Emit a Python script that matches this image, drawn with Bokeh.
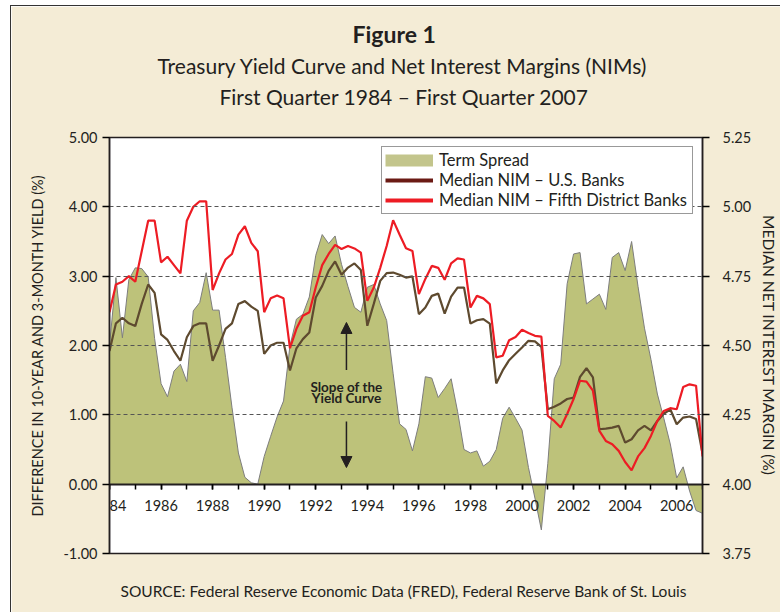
from bokeh.plotting import figure
from bokeh.models import (Range1d, LinearAxis, FixedTicker, SingleIntervalTicker,
                          NumeralTickFormatter, Legend, LegendItem, Label, Arrow,
                          NormalHead, ColumnDataSource, Title)
from bokeh.embed import file_html
from bokeh.resources import INLINE

# ---------------- data (quarterly, 1984Q1 .. 2007Q1) ----------------
start_year = 1984
term_spread = [2.00, 2.98, 2.11, 2.95, 3.12, 3.11, 2.99, 2.10, 1.45, 1.26, 1.63, 1.73,
               1.48, 2.50, 2.62, 3.05, 2.51, 2.51, 1.83, 1.11, 0.45, 0.10, 0.02, 0.00,
               0.40, 0.69, 0.97, 1.20, 2.00, 2.38, 2.45, 2.70, 3.30, 3.60, 3.47, 3.58,
               3.17, 2.85, 2.55, 2.48, 2.84, 2.88, 2.60, 2.36, 1.60, 0.87, 0.79, 0.48,
               0.87, 1.55, 1.53, 1.25, 1.38, 1.52, 1.05, 0.50, 0.45, 0.48, 0.26, 0.33,
               0.50, 0.95, 1.11, 0.95, 0.78, 0.24, -0.20, -0.66, 0.30, 1.52, 1.73, 2.89,
               3.32, 3.34, 2.60, 2.67, 2.74, 2.52, 3.27, 3.34, 3.08, 3.50, 2.85, 2.25,
               1.80, 1.30, 0.95, 0.58, 0.09, 0.25, -0.10, -0.38, -0.42]
nim_us = [4.48, 4.58, 4.60, 4.58, 4.57, 4.65, 4.72, 4.69, 4.54, 4.52, 4.48, 4.445,
          4.53, 4.57, 4.58, 4.58, 4.445, 4.50, 4.56, 4.58, 4.65, 4.66, 4.64, 4.625,
          4.47, 4.50, 4.51, 4.51, 4.41, 4.49, 4.523, 4.547, 4.673, 4.715, 4.769, 4.803,
          4.755, 4.781, 4.796, 4.772, 4.571, 4.65, 4.733, 4.761, 4.763, 4.755, 4.745, 4.749,
          4.613, 4.637, 4.679, 4.687, 4.615, 4.676, 4.709, 4.709, 4.579, 4.591, 4.595, 4.579,
          4.363, 4.41, 4.447, 4.47, 4.493, 4.517, 4.515, 4.495, 4.27, 4.279, 4.291, 4.307,
          4.312, 4.387, 4.418, 4.385, 4.198, 4.20, 4.204, 4.21, 4.15, 4.162, 4.194, 4.21,
          4.194, 4.228, 4.254, 4.27, 4.216, 4.24, 4.244, 4.235, 4.11]
nim_fifth = [4.62, 4.72, 4.73, 4.75, 4.73, 4.84, 4.95, 4.95, 4.80, 4.82, 4.79, 4.76,
             4.95, 5.00, 5.02, 5.02, 4.70, 4.76, 4.81, 4.83, 4.90, 4.93, 4.87, 4.84,
             4.62, 4.67, 4.68, 4.67, 4.49, 4.56, 4.607, 4.62, 4.71, 4.79, 4.83, 4.863,
             4.848, 4.859, 4.85, 4.835, 4.661, 4.709, 4.78, 4.859, 4.952, 4.90, 4.851, 4.841,
             4.685, 4.74, 4.787, 4.78, 4.737, 4.796, 4.814, 4.81, 4.637, 4.679, 4.67, 4.649,
             4.457, 4.463, 4.519, 4.531, 4.557, 4.545, 4.535, 4.532, 4.246, 4.228, 4.204, 4.253,
             4.307, 4.373, 4.37, 4.337, 4.192, 4.156, 4.144, 4.12, 4.08, 4.05, 4.10, 4.13,
             4.174, 4.228, 4.264, 4.274, 4.27, 4.35, 4.36, 4.355, 4.10]
left_ticks = [-1, 0, 1, 2, 3, 4, 5]
right_ticks = [3.75, 4.00, 4.25, 4.50, 4.75, 5.00, 5.25]
grid_levels = [1, 2, 3, 4]

quarters = [start_year + i / 4 for i in range(len(term_spread))]
src = ColumnDataSource(dict(x=quarters, spread=term_spread, us=nim_us, fifth=nim_fifth,
                            zero=[0] * len(term_spread)))

# ---------------- styling ----------------
FONT = "Lato"
DARK = "#231f20"
CREAM = "#f4ecd6"
GREEN = "#bdc27a"
RED = "#ed1c24"
BROWN = "#5e4a2f"

W, H = 770, 607
p = figure(width=W, height=H, output_backend="svg", toolbar_location=None,
           x_range=Range1d(1984, 2007), y_range=Range1d(-1, 5),
           min_border_left=98, min_border_right=75, min_border_top=131,
           min_border_bottom=60)
p.styles = {"margin-left": "10px", "margin-top": "4.5px",
            "border-left": "1.5px solid #333333", "border-top": "1.5px solid #333333"}
p.title.text = ""
p.background_fill_color = "white"
p.border_fill_color = CREAM
p.outline_line_color = DARK
p.outline_line_width = 1.5
p.extra_y_ranges = {"r": Range1d(3.75, 5.25)}

# term spread area
p.varea(x="x", y1="zero", y2="spread", source=src, fill_color=GREEN, level="underlay")
p.line(x="x", y="spread", source=src, line_color="#7d7d7d", line_width=1, level="underlay")
# NIM lines
p.line(x="x", y="us", source=src, line_color=BROWN, line_width=2.2, y_range_name="r")
p.line(x="x", y="fifth", source=src, line_color=RED, line_width=2.2, y_range_name="r")

# grid
p.xgrid.visible = False
p.ygrid.ticker = FixedTicker(ticks=grid_levels)
p.ygrid.grid_line_color = "#555555"
p.ygrid.grid_line_dash = "4 3"
p.ygrid.grid_line_width = 1.2
p.ygrid.level = "glyph"

# left axis
ya = p.yaxis[0]
ya.ticker = FixedTicker(ticks=left_ticks)
ya.formatter = NumeralTickFormatter(format="0.00")
ya.major_tick_out = 7
ya.major_tick_in = 0
ya.major_tick_line_width = 1.5
ya.minor_tick_line_color = None
ya.axis_line_width = 1.5
ya.axis_line_color = DARK
ya.major_label_standoff = 5
ya.major_label_text_font = FONT
ya.major_label_text_font_size = "14.5px"
ya.major_label_text_color = DARK
ya.axis_label = "DIFFERENCE IN 10-YEAR AND 3-MONTH YIELD (%)"
ya.axis_label_standoff = 14
ya.axis_label_text_font = FONT
ya.axis_label_text_font_size = "14.5px"
ya.axis_label_text_font_style = "normal"
ya.axis_label_text_color = DARK

# right axis
ra = LinearAxis(y_range_name="r", ticker=FixedTicker(ticks=right_ticks),
                formatter=NumeralTickFormatter(format="0.00"))
ra.major_tick_out = 7
ra.major_tick_in = 0
ra.major_tick_line_width = 1.5
ra.minor_tick_line_color = None
ra.axis_line_width = 1.5
ra.axis_line_color = DARK
ra.major_label_standoff = 13
ra.major_label_text_font = FONT
ra.major_label_text_font_size = "14.5px"
ra.major_label_text_color = DARK
ra.axis_label = "MEDIAN NET INTEREST MARGIN (%)"
ra.axis_label_standoff = 6
ra.axis_label_text_font = FONT
ra.axis_label_text_font_size = "15.5px"
ra.axis_label_text_font_style = "normal"
ra.axis_label_text_color = DARK
p.add_layout(ra, "right")

# bottom axis on the zero line
xa = p.xaxis[0]
xa.fixed_location = 0
xa.ticker = SingleIntervalTicker(interval=2, num_minor_ticks=2)
xa.major_tick_out = 5
xa.major_tick_in = 0
xa.minor_tick_out = 5
xa.minor_tick_in = 0
xa.major_tick_line_width = 1.5
xa.minor_tick_line_width = 1.5
xa.axis_line_width = 2
xa.axis_line_color = DARK
xa.major_label_standoff = 11
xa.major_label_text_font = FONT
xa.major_label_text_font_size = "14.5px"
xa.major_label_text_color = DARK

# legend (swatch renderers carry no visible data)
nan = float("nan")
empty = ColumnDataSource(dict(x=[nan], y=[nan]))
lg_area = p.line(x="x", y="y", source=empty, line_color="#c3c58c", line_width=12)
lg_us = p.line(x="x", y="y", source=empty, line_color="#6b1a14", line_width=4)
lg_fifth = p.line(x="x", y="y", source=empty, line_color=RED, line_width=4)
legend = Legend(items=[LegendItem(label="Term Spread", renderers=[lg_area]),
                       LegendItem(label="Median NIM – U.S. Banks", renderers=[lg_us]),
                       LegendItem(label="Median NIM – Fifth District Banks", renderers=[lg_fifth])],
                location="top_right", margin=9, padding=3, spacing=0,
                glyph_width=48, glyph_height=14, label_height=18, label_standoff=6,
                label_width=250,
                label_text_font=FONT, label_text_font_size="16.5px", label_text_color=DARK,
                border_line_color="#333333", border_line_width=1.5,
                background_fill_color="white", background_fill_alpha=1)
p.add_layout(legend, "center")

# annotation: slope of the yield curve
ax = 1993.19
p.add_layout(Arrow(end=NormalHead(size=11, fill_color=DARK, line_color=DARK),
                   x_start=ax, y_start=1.645, x_end=ax, y_end=2.332,
                   line_color=DARK, line_width=1.5))
p.add_layout(Arrow(end=NormalHead(size=11, fill_color=DARK, line_color=DARK),
                   x_start=ax, y_start=0.904, x_end=ax, y_end=0.24,
                   line_color=DARK, line_width=1.5))
for txt, yy in [("Slope of the", 1.405), ("Yield Curve", 1.24)]:
    p.add_layout(Label(x=ax, y=yy, text=txt, text_align="center", text_baseline="middle",
                       text_font=FONT, text_font_size="13.5px", text_font_style="bold",
                       text_color=DARK))


def heading(text, size, offset, standoff, style="normal"):
    return Title(text=text, align="left", vertical_align="top", standoff=standoff,
                 offset=offset, text_font=FONT, text_font_size=size,
                 text_font_style=style, text_color=DARK)


def gap(px):
    # blank title used only to reserve room between the plot and the headings
    return Title(text=" ", text_font_size="1px", standoff=px - 3.2, vertical_align="top")


# headings (stacked outward from the plot) and source line
p.add_layout(gap(27), "above")
p.add_layout(heading("First Quarter 1984 – First Quarter 2007", "21px", 110, 0), "above")
p.add_layout(heading("Treasury Yield Curve and Net Interest Margins (NIMs)", "21px", 48, 7), "above")
p.add_layout(heading("Figure 1", "23px", 243, 0, "bold"), "above")
p.add_layout(gap(28), "below")
p.add_layout(heading("SOURCE: Federal Reserve Economic Data (FRED), Federal Reserve Bank of St. Louis",
                     "15.5px", 11, 0), "below")

open("out.html", "w").write(file_html(p, INLINE))
